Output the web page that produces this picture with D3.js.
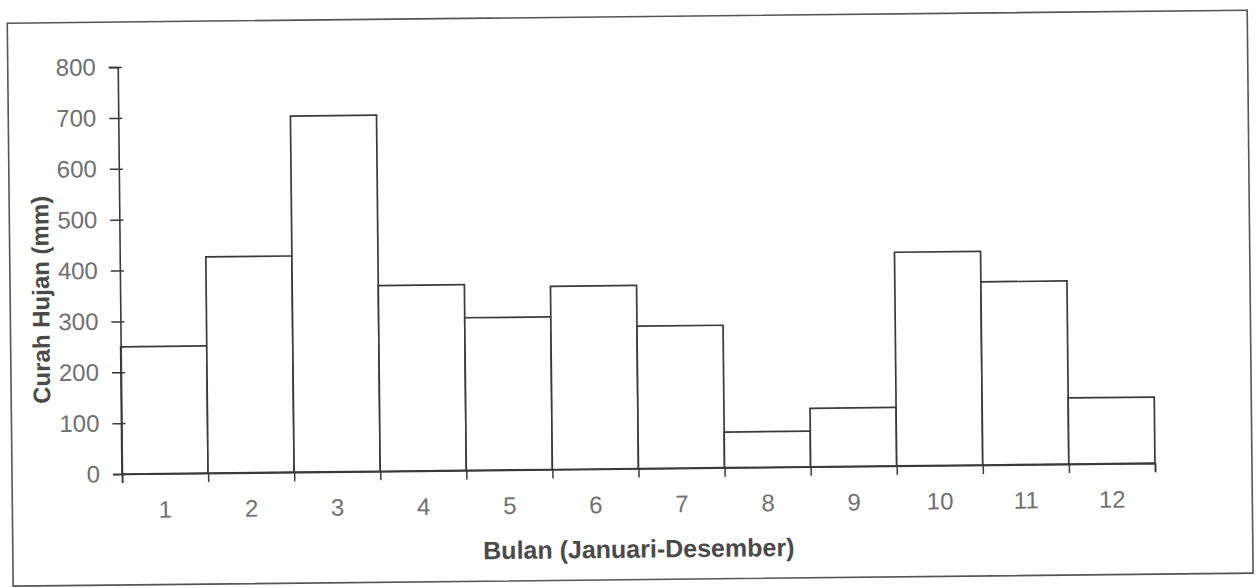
<!DOCTYPE html>
<html>
<head>
<meta charset="utf-8">
<script src="https://cdn.jsdelivr.net/npm/d3@7"></script>
<style>
  body { margin: 0; background: #fff; }
  svg { display: block; }
  text { font-family: "Liberation Sans", Arial, sans-serif; }
</style>
</head>
<body>
<div id="chart"></div>
<script>
// curah hujan bulanan (mm)
var months = ["1", "2", "3", "4", "5", "6", "7", "8", "9", "10", "11", "12"];
var rainfall = [250, 425, 700, 365, 300, 360, 280, 70, 115, 420, 360, 130];
var yTicks = [0, 100, 200, 300, 400, 500, 600, 700, 800];

var W = 1256, H = 588;
var plotLeft = 122, plotRight = 1155, plotTop = 67, plotBottom = 474;
var ink = "#3a3a3a";

var svg = d3.select("#chart").append("svg")
    .attr("width", W)
    .attr("height", H);

// the scan is tilted a little, so the whole drawing is too
var g = svg.append("g")
    .attr("transform", "rotate(-0.6," + plotLeft + "," + plotBottom + ")");

g.append("rect")
    .attr("x", 12).attr("y", 22)
    .attr("width", 1240).attr("height", 563)
    .attr("fill", "#fff")
    .attr("stroke", "#555")
    .attr("stroke-width", 1.6);

var x = d3.scaleBand().domain(months).range([plotLeft, plotRight]).paddingInner(0).paddingOuter(0);
var xEdge = d3.scaleLinear().domain([0, months.length]).range([plotLeft, plotRight]);
var y = d3.scaleLinear().domain([0, 800]).range([plotBottom, plotTop]);

// bars
g.selectAll("rect.bar")
    .data(rainfall)
    .enter()
    .append("rect")
    .attr("class", "bar")
    .attr("x", function (d, i) { return x(months[i]); })
    .attr("y", function (d) { return y(d); })
    .attr("width", x.bandwidth())
    .attr("height", function (d) { return y(0) - y(d); })
    .attr("fill", "#fff")
    .attr("stroke", ink)
    .attr("stroke-width", 1.7);

// y axis
var yAxis = g.append("g")
    .attr("transform", "translate(" + plotLeft + ",0)")
    .call(d3.axisLeft(y).tickValues(yTicks).tickSize(9).tickPadding(13));
yAxis.select(".domain").attr("stroke", ink).attr("stroke-width", 1.6);
yAxis.selectAll(".tick line").attr("stroke", ink).attr("stroke-width", 1.5);
yAxis.selectAll(".tick").append("line")
    .attr("x1", 0).attr("x2", 4)
    .attr("stroke", ink).attr("stroke-width", 1.5);
yAxis.selectAll(".tick text")
    .attr("fill", "#707070")
    .style("font-size", "24px");

// x axis: ticks on bar edges
var xAxis = g.append("g")
    .attr("transform", "translate(0," + plotBottom + ")")
    .call(d3.axisBottom(xEdge).tickValues(d3.range(months.length + 1)).tickFormat("").tickSize(9));
xAxis.select(".domain").attr("stroke", ink).attr("stroke-width", 1.6);
xAxis.selectAll(".tick line").attr("stroke", ink).attr("stroke-width", 1.5);

var xLabels = g.append("g")
    .attr("transform", "translate(0," + plotBottom + ")")
    .call(d3.axisBottom(x).tickSize(0).tickPadding(27));
xLabels.select(".domain").remove();
xLabels.selectAll(".tick text")
    .attr("fill", "#707070")
    .style("font-size", "24px");

// titles
g.append("text")
    .attr("transform", "translate(51,299) rotate(-90)")
    .attr("text-anchor", "middle")
    .attr("fill", "#4a4a4a")
    .style("font-size", "24px")
    .style("font-weight", "bold")
    .text("Curah Hujan (mm)");

g.append("text")
    .attr("x", 638)
    .attr("y", 563)
    .attr("text-anchor", "middle")
    .attr("fill", "#4a4a4a")
    .style("font-size", "25px")
    .style("font-weight", "bold")
    .text("Bulan (Januari-Desember)");
</script>
</body>
</html>
